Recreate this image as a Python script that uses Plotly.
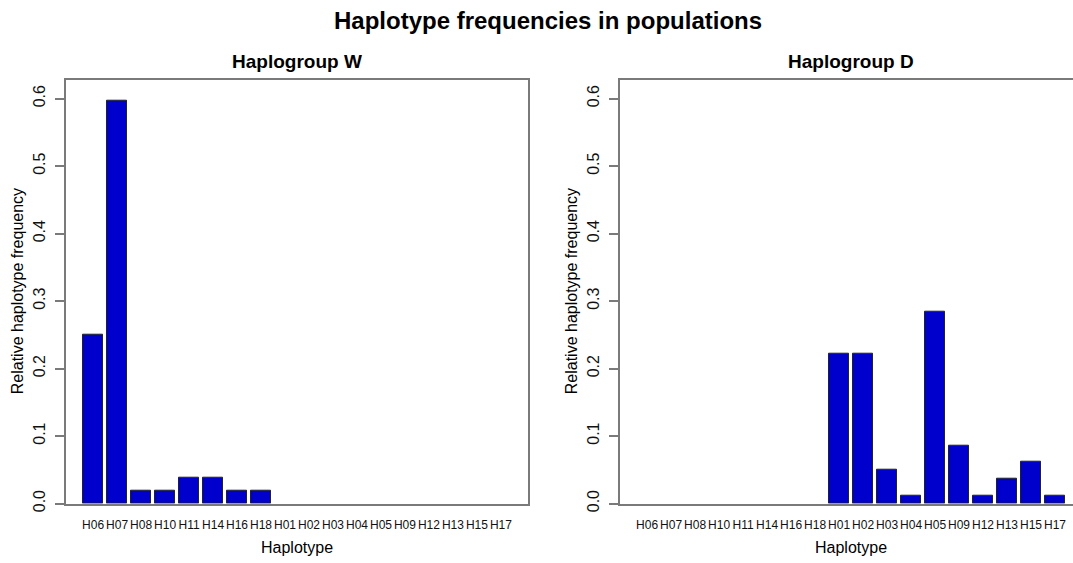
import numpy as np
import plotly.graph_objects as go

# Haplotype order shared by both panels
haplotypes = ["H06", "H07", "H08", "H10", "H11", "H14", "H16", "H18", "H01",
              "H02", "H03", "H04", "H05", "H09", "H12", "H13", "H15", "H17"]

# Relative haplotype frequencies per haplogroup
freq_w = [0.2500, 0.5962, 0.0192, 0.0192, 0.0385, 0.0385, 0.0192, 0.0192, 0.0,
          0.0, 0.0, 0.0, 0.0, 0.0, 0.0, 0.0, 0.0, 0.0]
freq_d = [0.0, 0.0, 0.0, 0.0, 0.0, 0.0, 0.0, 0.0, 0.2222,
          0.2222, 0.0494, 0.0123, 0.2840, 0.0864, 0.0123, 0.0370, 0.0617, 0.0123]

y_ticks = [0.0, 0.1, 0.2, 0.3, 0.4, 0.5, 0.6]

# barplot-style positions: unit width bars separated by 0.2
pos = 0.7 + 1.2 * np.arange(len(haplotypes))

W, H = 1073, 563
FONT = "Liberation Sans, Arial, sans-serif"
BAR = "#0000CD"
LINE = "#7a7a7a"


def bar_trace(values, xa, ya):
    # empty categories get no outline so they vanish into the axis
    widths = [1 if v > 0 else 0 for v in values]
    return go.Bar(x=pos, y=values, width=1.0, xaxis=xa, yaxis=ya,
                  marker=dict(color=BAR, line=dict(color="#222222", width=widths)),
                  showlegend=False)


fig = go.Figure()
fig.add_trace(bar_trace(freq_w, "x", "y"))
fig.add_trace(bar_trace(freq_d, "x2", "y2"))


def px_x(v):
    return v / W


def px_y(v):
    return 1 - v / H


ydom = [px_y(511.7), px_y(81)]

xcommon = dict(tickmode="array", tickvals=pos, ticktext=haplotypes, ticks="",
               tickangle=0, showgrid=False, zeroline=False, showline=True,
               linecolor=LINE, linewidth=1.5, mirror=True, ticklabelstandoff=9,
               tickfont=dict(family=FONT, size=12, color="#111111"))
ycommon = dict(range=[0, 0.628], tickmode="array", tickvals=y_ticks,
               ticktext=[f"{v:.1f}" for v in y_ticks], ticks="outside",
               ticklen=9, tickwidth=1.5, tickcolor=LINE, tickangle=-90,
               showgrid=False, zeroline=False, showline=True, linecolor=LINE,
               linewidth=1.5, ticklabelstandoff=4,
               tickfont=dict(family=FONT, size=16, color="#111111"))

fig.update_layout(
    width=W, height=H, autosize=False,
    margin=dict(l=0, r=0, t=0, b=0),
    paper_bgcolor="white", plot_bgcolor="white",
    bargap=0,
    xaxis=dict(domain=[px_x(66), px_x(528)], range=[-0.656, 22.456],
               anchor="y", **xcommon),
    yaxis=dict(domain=ydom, anchor="x", mirror=True, **ycommon),
    xaxis2=dict(domain=[px_x(620), 1.0], range=[-0.656, 22.0],
                anchor="y2", **xcommon),
    yaxis2=dict(domain=ydom, anchor="x2", mirror=False, **ycommon),
)


def label(text, x, y, size, bold=False, angle=0):
    fig.add_annotation(text=f"<b>{text}</b>" if bold else text,
                       x=px_x(x), y=px_y(y), xref="paper", yref="paper",
                       xanchor="center", yanchor="middle", showarrow=False,
                       textangle=angle,
                       font=dict(family=FONT, size=size, color="#000000"))


label("Haplotype frequencies in populations", 547.5, 21, 24, bold=True)
label("Haplogroup W", 297, 62.5, 19, bold=True)
label("Haplogroup D", 851, 62.5, 19, bold=True)
label("Relative haplotype frequency", 17, 296, 16, angle=-90)
label("Relative haplotype frequency", 571, 296, 16, angle=-90)
label("Haplotype", 297, 556, 16)
label("Haplotype", 851, 556, 16)

fig.write_html("out.html")
